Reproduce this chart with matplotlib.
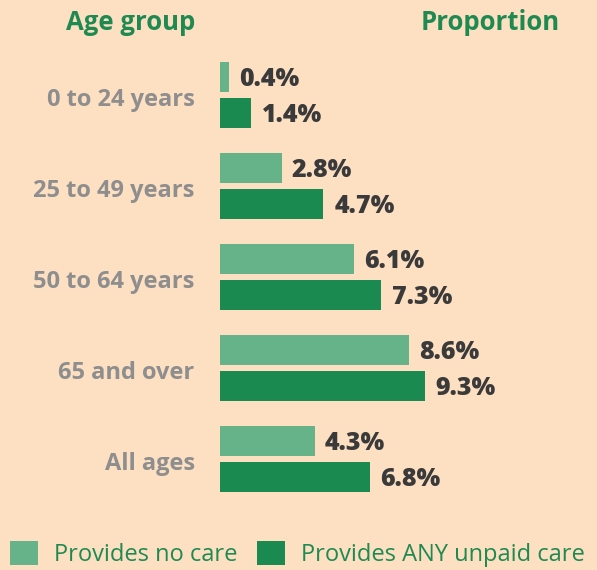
import matplotlib.pyplot as plt
from matplotlib.patches import Patch

groups = ['0 to 24 years', '25 to 49 years', '50 to 64 years', '65 and over', 'All ages']
no_care = [0.4, 2.8, 6.1, 8.6, 4.3]
any_care = [1.4, 4.7, 7.3, 9.3, 6.8]

bg = '#FDDFC2'
light = '#66B38A'
dark = '#1B8A50'
green_txt = '#1E8A52'
grey_txt = '#8E8E8E'
val_txt = '#3A3A3A'

plt.rcParams['font.family'] = ['Open Sans', 'DejaVu Sans']

fig = plt.figure(figsize=(5.97, 5.70), dpi=100, facecolor=bg)
ax = fig.add_axes([220 / 597, 0, 377 / 597, 1])
ax.set_facecolor(bg)
ax.set_xlim(0, 377 / 22)
ax.set_ylim(5.22, -1.044)
ax.set_axis_off()

off = 0.198
h = 0.32
for i, g in enumerate(groups):
    ax.barh(i - off, no_care[i], height=h, color=light, align='center')
    ax.barh(i + off, any_care[i], height=h, color=dark, align='center')
    ax.text(no_care[i] + 0.45, i - off + 0.03, f'{no_care[i]}%', va='center', ha='left',
            fontsize=18, fontweight='heavy', color=val_txt)
    ax.text(any_care[i] + 0.5, i + off + 0.03, f'{any_care[i]}%', va='center', ha='left',
            fontsize=18, fontweight='heavy', color=val_txt)
    ax.text(-1.15, i + 0.06, g, va='center', ha='right', fontsize=17,
            fontweight='bold', color=grey_txt, clip_on=False)

fig.text(131 / 597, 1 - 22 / 570, 'Age group', ha='center', va='center',
         fontsize=18.5, fontweight='bold', color=green_txt)
fig.text(490 / 597, 1 - 22 / 570, 'Proportion', ha='center', va='center',
         fontsize=18.5, fontweight='bold', color=green_txt)

handles = [Patch(facecolor=light, label='Provides no care'),
           Patch(facecolor=dark, label='Provides ANY unpaid care')]
leg = fig.legend(handles=handles, loc='lower left', bbox_to_anchor=(10 / 597, 3 / 570),
                 ncol=2, frameon=False, fontsize=17, handlelength=1.2, handleheight=1.2,
                 handletextpad=0.68, columnspacing=0.8, borderpad=0, borderaxespad=0)
for t in leg.get_texts():
    t.set_color(green_txt)

fig.savefig('out.png', dpi=100, facecolor=bg)
